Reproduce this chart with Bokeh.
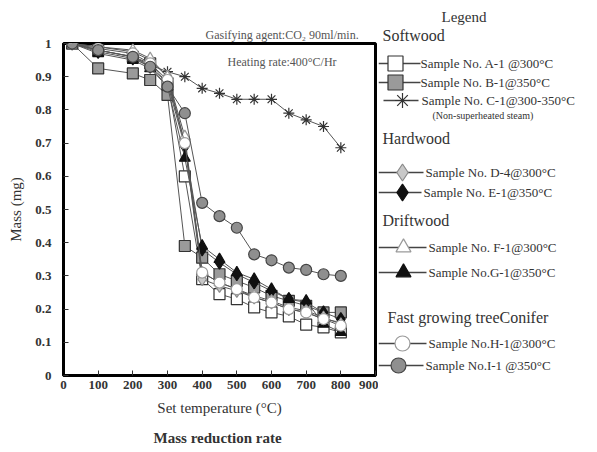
from bokeh.plotting import figure
from bokeh.models import Range1d, Label, FixedTicker, Title
from bokeh.layouts import row
from bokeh.core.properties import value
from bokeh.embed import file_html
from bokeh.resources import INLINE

# ---- data ----
temps = [25, 100, 200, 250, 300, 350, 400, 450, 500, 550, 600, 650, 700, 750, 800]
s_A = [1.0, 0.98, 0.96, 0.94, 0.88, 0.60, 0.29, 0.245, 0.23, 0.205, 0.19, 0.178, 0.153, 0.145, 0.13]
s_B = [1.0, 0.925, 0.91, 0.89, 0.845, 0.39, 0.355, 0.305, 0.285, 0.265, 0.24, 0.225, 0.21, 0.19, 0.19]
s_C = [1.0, 0.98, 0.96, 0.935, 0.915, 0.90, 0.865, 0.85, 0.832, 0.832, 0.832, 0.79, 0.77, 0.75, 0.686]
s_D = [1.0, 0.99, 0.975, 0.95, 0.90, 0.70, 0.29, 0.27, 0.255, 0.235, 0.22, 0.20, 0.19, 0.17, 0.16]
s_E = [1.0, 0.975, 0.955, 0.93, 0.88, 0.69, 0.38, 0.34, 0.305, 0.28, 0.255, 0.23, 0.22, 0.19, 0.17]
s_F = [1.0, 0.99, 0.98, 0.955, 0.90, 0.72, 0.31, 0.28, 0.26, 0.24, 0.225, 0.205, 0.195, 0.175, 0.155]
s_G = [1.0, 0.97, 0.95, 0.925, 0.87, 0.655, 0.39, 0.35, 0.31, 0.29, 0.26, 0.23, 0.225, 0.155, 0.13]
s_H = [1.0, 0.985, 0.97, 0.94, 0.89, 0.70, 0.31, 0.28, 0.26, 0.235, 0.22, 0.20, 0.19, 0.17, 0.15]
s_I = [1.0, 0.98, 0.96, 0.93, 0.87, 0.79, 0.52, 0.48, 0.445, 0.365, 0.347, 0.325, 0.318, 0.305, 0.30]

labels = ["Sample No. A-1 @300°C", "Sample No. B-1@350°C", "Sample No. C-1@300-350°C",
          "Sample No. D-4@300°C", "Sample No. E-1@350°C", "Sample No. F-1@300°C",
          "Sample No.G-1@350°C", "Sample No.H-1@300°C", "Sample No.I-1   @350°C"]
groups = ["Softwood", "Hardwood", "Driftwood", "Fast growing treeConifer"]
x_ticks = [0, 100, 200, 300, 400, 500, 600, 700, 800, 900]
y_ticks = [0, 0.1, 0.2, 0.3, 0.4, 0.5, 0.6, 0.7, 0.8, 0.9, 1.0]

series = [s_A, s_B, s_C, s_D, s_E, s_F, s_G, s_H, s_I]
# marker, size, fill, edge
styles = [
    ("square", 11, "white", "#333333"),
    ("square", 11, "#9a9a9a", "#333333"),
    ("asterisk", 11, "#333333", "#333333"),
    ("diamond", 13, "#c8c8c8", "#8a8a8a"),
    ("diamond", 13, "#111111", "#111111"),
    ("triangle", 11, "white", "#9a9a9a"),
    ("triangle", 11, "#111111", "#111111"),
    ("circle", 11, "white", "#9a9a9a"),
    ("circle", 11, "#8f8f8f", "#444444"),
]

SERIF = "Liberation Serif"
TXT = "#333333"

p = figure(width=378, height=452, x_range=Range1d(0, 900), y_range=Range1d(0, 1),
           output_backend="svg", toolbar_location=None,
           min_border_left=63, min_border_right=3, min_border_top=43, min_border_bottom=77)
p.grid.visible = False
p.outline_line_color = "black"
p.outline_line_width = 3

p.xaxis.ticker = FixedTicker(ticks=x_ticks)
p.yaxis.ticker = FixedTicker(ticks=y_ticks)
p.yaxis.major_label_overrides = {0: "0", 1: "1"}
for ax in (p.xaxis[0], p.yaxis[0]):
    ax.axis_line_width = 3
    ax.axis_line_color = "black"
    ax.major_tick_in = 5
    ax.major_tick_out = 0
    ax.minor_tick_line_color = None
    ax.major_tick_line_color = "#333333"
    ax.major_label_text_font = SERIF
    ax.major_label_text_font_style = "bold"
    ax.major_label_text_font_size = "13px"
    ax.major_label_text_color = TXT
p.xaxis.major_label_standoff = 5
p.yaxis.major_label_standoff = 12
p.yaxis.axis_label = "Mass (mg)"
p.yaxis.axis_label_text_font = SERIF
p.yaxis.axis_label_text_font_style = "normal"
p.yaxis.axis_label_text_font_size = "15px"
p.yaxis.axis_label_text_color = TXT
p.yaxis.axis_label_standoff = 8

for s, (mk, sz, fc, ec) in zip(series, styles):
    p.line(temps, s, line_color="#555555", line_width=1)
    p.scatter(temps, s, marker=mk, size=sz, fill_color=fc, line_color=ec, line_width=1.2)

# inside-frame annotation (frame left=63, bottom=375 in canvas)
p.add_layout(Label(x=227 - 63, y=375 - 61, x_units="screen", y_units="screen",
                   text="Heating  rate:400°C/Hr", text_font=SERIF, text_font_size="12px",
                   text_baseline="middle", text_color="#555555"))

# texts outside the frame as titles
p.add_layout(Title(text="Gasifying  agent:CO₂ 90ml/min.", align="left", offset=142,
                   text_font=SERIF, text_font_size="12px", text_font_style="normal",
                   text_color="#555555", standoff=3), "above")
p.add_layout(Title(text="Set temperature (°C)", align="center", offset=18,
                   text_font=SERIF, text_font_size="15px", text_font_style="normal",
                   text_color=TXT, standoff=12), "below")
p.add_layout(Title(text="Mass reduction  rate", align="center", offset=19,
                   text_font=SERIF, text_font_size="15px", text_font_style="bold",
                   text_color=TXT, standoff=12), "below")

# ---- legend panel (frame aligned with main frame: canvas y 43..375) ----
OX = 378
lg = figure(width=597 - OX, height=452, x_range=Range1d(0, 597 - OX), y_range=Range1d(375, 43),
            output_backend="svg", toolbar_location=None,
            min_border_left=0, min_border_right=0, min_border_top=43, min_border_bottom=77,
            x_axis_location=None, y_axis_location=None)
lg.grid.visible = False
lg.outline_line_color = None

lg.add_layout(Title(text="Softwood", align="left", offset=4, text_font=SERIF,
                    text_font_size="16px", text_font_style="normal", text_color=TXT,
                    standoff=0), "above")
lg.add_layout(Title(text="Legend", align="left", offset=63, text_font=SERIF,
                    text_font_size="15px", text_font_style="normal", text_color=TXT,
                    standoff=0), "above")

def ltext(cx, cy, text, size, align="left"):
    lg.text([cx - OX], [cy], text=[text], text_font=value(SERIF), text_font_size=size,
            text_align=align, text_baseline="middle", text_color=TXT)

heads = [(382, 138), (382, 220), (387, 317)]
for (hx, hy), g in zip(heads, groups[1:]):
    ltext(hx, hy, g, "16px")

# (y, marker x, line x0, line x1, text x)
rows = [(63, 395, 375, 420, 420), (82, 395, 375, 420, 420), (100, 402, 383, 418, 421),
        (172, 402, 375, 423, 425), (192, 402, 375, 421, 423),
        (247, 403, 375, 426, 428), (272, 403, 375, 426, 428),
        (343, 402, 375, 426, 428), (365, 398, 375, 423, 425)]
for (ry, mx, x0, x1, tx), (mk, sz, fc, ec), lab in zip(rows, styles, labels):
    lg.line([max(x0 - OX, 0), x1 - OX], [ry, ry], line_color="#444444", line_width=1.5)
    lg.scatter([mx - OX], [ry], marker=mk, size=sz + 4, fill_color=fc, line_color=ec, line_width=1.2)
    ltext(tx, ry, lab, "13px")
ltext(432, 115, "(Non-superheated  steam)", "10px")

layout = row(p, lg)
open("out.html", "w").write(file_html(layout, INLINE))
